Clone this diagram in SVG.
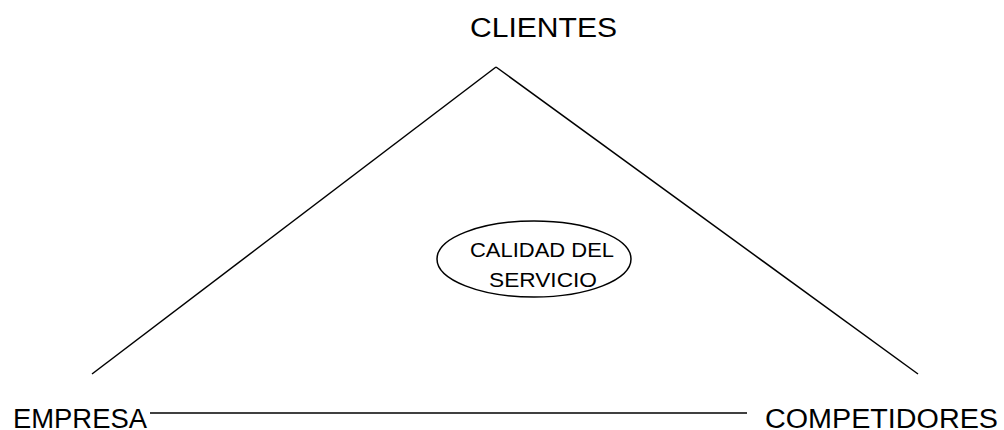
<svg xmlns="http://www.w3.org/2000/svg" width="1004" height="430" viewBox="0 0 1004 430">
  <style>
    .edge { stroke: #000; stroke-width: 1.5; fill: none; stroke-linecap: butt; }
    .lbl { font-family: "Liberation Sans", Arial, sans-serif; fill: #000; }
    .big { font-size: 27px; }
    .small { font-size: 19.5px; }
  </style>
  <rect width="1004" height="430" fill="#fff"/>

  <!-- triangle sides -->
  <g id="connectors">
    <line class="edge" x1="92" y1="374" x2="496" y2="67"/>
    <line class="edge" x1="496" y1="67" x2="918" y2="374"/>
    <line class="edge" x1="150" y1="413" x2="747" y2="413"/>
  </g>

  <g id="clientes">
    <text class="lbl big" x="470" y="37" textLength="147" lengthAdjust="spacingAndGlyphs">CLIENTES</text>
  </g>

  <g id="empresa">
    <text class="lbl big" x="13" y="428" textLength="134" lengthAdjust="spacingAndGlyphs">EMPRESA</text>
  </g>

  <g id="competidores">
    <text class="lbl big" x="765" y="428" textLength="233" lengthAdjust="spacingAndGlyphs">COMPETIDORES</text>
  </g>

  <g id="calidad">
    <ellipse class="edge" cx="534" cy="259" rx="97" ry="38"/>
    <text class="lbl small" x="470" y="257" textLength="144" lengthAdjust="spacingAndGlyphs">CALIDAD DEL</text>
    <text class="lbl small" x="489" y="287" textLength="108" lengthAdjust="spacingAndGlyphs">SERVICIO</text>
  </g>
</svg>
